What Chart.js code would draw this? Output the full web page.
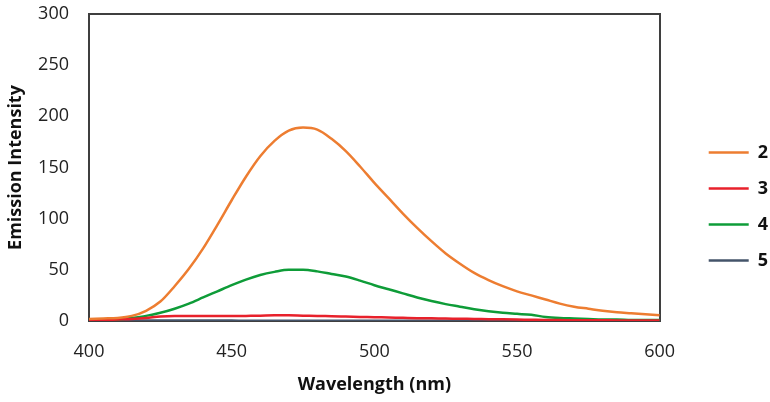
<!DOCTYPE html>
<html>
<head>
<meta charset="utf-8">
<script src="https://cdn.jsdelivr.net/npm/chart.js@4/dist/chart.umd.min.js"></script>
<style>
  html, body { margin: 0; padding: 0; background: #fff; }
  #wrap { width: 770px; height: 402px; }
</style>
</head>
<body>
<div id="wrap"><canvas id="emissionChart" width="770" height="402"></canvas></div>
<script>
// wavelength (nm), every 5 nm
const wavelengths = [400, 405, 410, 415, 420, 425, 430, 435, 440, 445, 450, 455, 460, 465, 470, 475, 480, 485, 490, 495,
  500, 505, 510, 515, 520, 525, 530, 535, 540, 545, 550, 555, 560, 565, 570, 575, 580, 585, 590, 595, 600];

const series2 = [2, 2.5, 3, 5, 10, 19, 34, 51, 71, 94, 118, 141, 161, 176, 186, 189, 187, 178, 166, 151,
  135, 120, 105, 91, 78, 66, 56, 47, 40, 34, 29, 25, 21, 17, 14, 12, 10, 8.5, 7.5, 6.5, 5.5];
const series3 = [1, 1, 1.5, 2, 3, 4.5, 5, 5, 5, 4.8, 4.8, 5, 5.2, 5.5, 5.5, 5.2, 5, 4.6, 4.3, 4,
  3.7, 3.4, 3.1, 2.8, 2.6, 2.4, 2.2, 2, 1.8, 1.6, 1.4, 1.2, 1, 0.9, 0.8, 0.7, 0.7, 0.6, 0.6, 0.5, 0.5];
const series4 = [1, 1, 1.5, 3, 5, 8, 12, 17, 23, 29, 35, 40.5, 45, 48, 50, 50, 48.5, 46, 43.5, 39.5,
  35, 31, 27, 23, 19.5, 16.5, 14, 11.5, 9.5, 8, 7, 6, 4, 3, 2.5, 2, 1.5, 1.5, 1, 1, 1];
const series5 = [0.5, 0.5, 0.5, 0.4, 0.4, 0.4, 0.4, 0.4, 0.4, 0.4, 0.4, 0.3, 0.3, 0.3, 0.3, 0.3, 0.3, 0.3, 0.3, 0.3,
  0.3, 0.3, 0.3, 0.3, 0.3, 0.3, 0.3, 0.2, 0.2, 0.2, 0.2, 0.2, 0.2, 0.2, 0.2, 0.2, 0.2, 0.2, 0.2, 0.2, 0.2];

const seriesNames = ['2', '3', '4', '5'];
const seriesColors = ['#ED7D31', '#E8212B', '#0E9C38', '#44546A'];

const xTicks = [400, 450, 500, 550, 600];
const yTicks = [0, 50, 100, 150, 200, 250, 300];

const frameColor = '#3f3f3f';
const fontFamily = '"Open Sans", "Noto Sans", sans-serif';

function toPoints(values) {
  return values.map((v, i) => ({ x: wavelengths[i], y: v }));
}

const allSeries = [series2, series3, series4, series5];
const datasets = allSeries.map((vals, i) => ({
  label: seriesNames[i],
  data: toPoints(vals),
  borderColor: seriesColors[i],
  backgroundColor: seriesColors[i],
  borderWidth: 2.5,
  pointRadius: 0,
  cubicInterpolationMode: 'monotone',
  fill: false
}));

// hidden grid, but keep a tick length so labels sit away from the axis
const noGrid = { display: false, drawTicks: true, tickLength: 18 };

const ctx = document.getElementById('emissionChart').getContext('2d');
const emissionChart = new Chart(ctx, {
  type: 'line',
  data: { datasets },
  options: {
    responsive: false,
    animation: false,
    devicePixelRatio: 1,
    layout: { padding: { top: 0, right: -8, bottom: 0, left: 0 } },
    plugins: {
      tooltip: { enabled: false },
      legend: {
        position: 'right',
        align: 'center',
        // empty title just nudges the items down a little
        title: { display: true, text: ' ', padding: 0, font: { size: 9 } },
        labels: {
          usePointStyle: true,
          pointStyle: 'line',
          pointStyleWidth: 40,
          color: '#111',
          padding: 18,
          font: { family: fontFamily, size: 18, weight: 'bold' }
        }
      }
    },
    scales: {
      x: {
        type: 'linear',
        position: 'bottom',
        min: 400,
        max: 600,
        afterBuildTicks: s => { s.ticks = xTicks.map(v => ({ value: v })); },
        afterFit: s => { s.height = 81; },
        grid: noGrid,
        border: { display: true, color: frameColor, width: 2 },
        ticks: { color: '#222', padding: 2, font: { family: fontFamily, size: 18 } },
        title: {
          display: true,
          text: 'Wavelength (nm)',
          color: '#111',
          padding: { top: 0, bottom: 6 },
          font: { family: fontFamily, size: 18, weight: 'bold' }
        }
      },
      xTop: {
        type: 'linear',
        position: 'top',
        min: 400,
        max: 600,
        afterFit: s => { s.height = 14; },
        grid: { display: false },
        border: { display: true, color: frameColor, width: 2 },
        ticks: { display: false }
      },
      y: {
        type: 'linear',
        position: 'left',
        min: 0,
        max: 300,
        afterBuildTicks: s => { s.ticks = yTicks.map(v => ({ value: v })); },
        afterFit: s => { s.width = 89; },
        grid: noGrid,
        border: { display: true, color: frameColor, width: 2 },
        ticks: { color: '#222', padding: 2, font: { family: fontFamily, size: 18 } },
        title: {
          display: true,
          text: 'Emission Intensity',
          color: '#111',
          padding: { top: 5, bottom: 0 },
          font: { family: fontFamily, size: 18, weight: 'bold' }
        }
      },
      yRight: {
        type: 'linear',
        position: 'right',
        min: 0,
        max: 300,
        afterFit: s => { s.width = 31; },
        grid: { display: false },
        border: { display: true, color: frameColor, width: 2 },
        ticks: { display: false }
      }
    }
  }
});
</script>
</body>
</html>
